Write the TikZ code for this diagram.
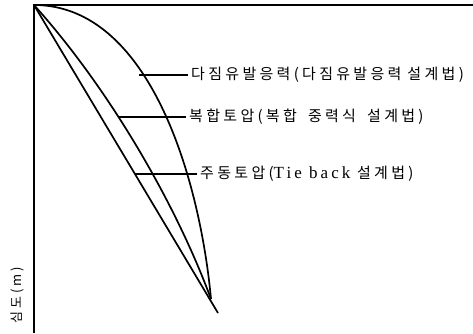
\documentclass[tikz,border=0pt]{standalone}
\usepackage{fontspec}
\usepackage{tikz}
\newfontfamily\kr[LetterSpace=22]{Noto Sans CJK KR}
\newfontfamily\lat[LetterSpace=18]{Liberation Serif}
\usetikzlibrary{positioning}

\begin{document}
\begin{tikzpicture}[x=1pt,y=-1pt,
		curve/.style={line width=1.7pt},
		leader/.style={line width=1.1pt},
		lbl/.style={anchor=west,inner xsep=3pt,inner ysep=0pt,font=\kr\fontsize{15}{17}\selectfont}]
		\useasboundingbox (0,0) rectangle (473,333);
		\coordinate (O) at (34,5);
		\coordinate (E) at (211,299);
		\coordinate (tip) at (218,313);
		\coordinate (xend) at (473,5);
		\coordinate (yend) at (34,333);
		
		% axes and the three pressure lines
		\draw[curve] (xend)--(O)--(yend);
		\draw[curve] (O)--(tip);
		\draw[curve] (O) .. controls (150,5) and (200,180) .. (E);
		\draw[curve] (O) .. controls (106,85) and (174,199) .. (E);
		
		\node[lbl] (dj) at (188,75) {다짐유발응력(다짐유발응력\hspace{0.4em}설계법)};
		\node[lbl] (bh) at (186,117) {복합토압(복합\hspace{0.3em} 중력식\hspace{0.3em} 설계법)};
		\node[lbl] (jd) at (197,174) {주동토압({\lat\fontsize{17}{17}\selectfont Tie back} 설계법)};
		\node[lbl,font=\kr\fontsize{13}{15}\selectfont,anchor=center,rotate=90] (depth) at (17,295) {심도(m)};
		
		\coordinate (a1) at (139,75);
		\coordinate (a2) at (118,117);
		\coordinate (a3) at (135,174);
		\draw[leader] (a1)--(dj.west);
		\draw[leader] (a2)--(bh.west);
		\draw[leader] (a3)--(jd.west);
	\end{tikzpicture}
\end{document}
